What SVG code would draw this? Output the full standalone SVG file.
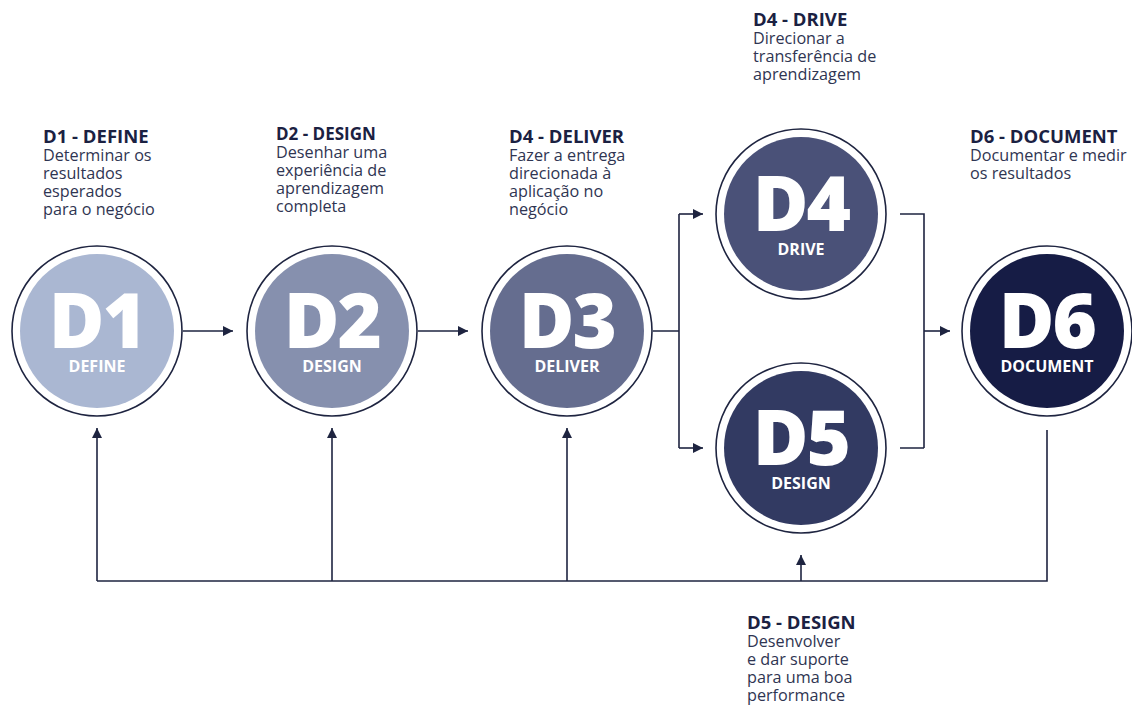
<svg xmlns="http://www.w3.org/2000/svg" width="1132" height="709" viewBox="0 0 1132 709">
  <style>
    .ring { fill: none; stroke: #1e2440; stroke-width: 1.6; }
    .mark { font-family: "Open Sans", "Liberation Sans", sans-serif; fill: #ffffff; text-anchor: middle; }
    .big { font-weight: 800; font-size: 76px; letter-spacing: -2px; }
    .lbl { font-weight: 700; font-size: 16px; letter-spacing: 0; }
    .cap { font-family: "Open Sans", "Liberation Sans", sans-serif; }
    .ttl { font-weight: 700; font-size: 18.5px; fill: #1b2142; }
    .ttl2 { font-weight: 700; font-size: 17px; fill: #1b2142; }
    .body { font-weight: 400; font-size: 16.2px; fill: #2f3552; }
    .conn { fill: none; stroke: #1e2440; stroke-width: 1.6; }
  </style>
  <defs>
    <marker id="arrow" viewBox="0 0 10 10" refX="10" refY="5" markerWidth="10" markerHeight="10" markerUnits="userSpaceOnUse" orient="auto">
      <path d="M0,0 L10,5 L0,10 Z" fill="#1e2440"/>
    </marker>
  </defs>
  <rect width="1132" height="709" fill="#ffffff"/>

  <!-- connectors: main flow, branch to D4/D5, merge to D6, feedback loop -->
  <g id="connectors">
    <path class="conn" d="M183,331 H233" marker-end="url(#arrow)"/>
    <path class="conn" d="M418,331 H468" marker-end="url(#arrow)"/>
    <path class="conn" d="M653,331 H679 M679,214 V448" />
    <path class="conn" d="M679,214 H703" marker-end="url(#arrow)"/>
    <path class="conn" d="M679,448 H703" marker-end="url(#arrow)"/>
    <path class="conn" d="M900,214 H924 V448 M900,448 H924"/>
    <path class="conn" d="M924,331 H950" marker-end="url(#arrow)"/>
    <path class="conn" d="M97,581 H1047 V430"/>
    <path class="conn" d="M97,581 V428" marker-end="url(#arrow)"/>
    <path class="conn" d="M332,581 V428" marker-end="url(#arrow)"/>
    <path class="conn" d="M567,581 V428" marker-end="url(#arrow)"/>
    <path class="conn" d="M801,581 V555" marker-end="url(#arrow)"/>
  </g>

  <g id="d1">
    <circle cx="97" cy="331" r="77" fill="#aab7d2"/>
    <circle class="ring" cx="97" cy="331" r="85"/>
    <text class="mark"><tspan class="big" x="97" y="348">D1</tspan><tspan class="lbl" x="97" y="372">DEFINE</tspan></text>
    <text class="cap">
      <tspan class="ttl" x="43" y="143">D1 - DEFINE</tspan>
      <tspan class="body" x="43" y="161">Determinar os</tspan>
      <tspan class="body" x="43" y="179">resultados</tspan>
      <tspan class="body" x="43" y="197">esperados</tspan>
      <tspan class="body" x="43" y="215">para o negócio</tspan>
    </text>
  </g>

  <g id="d2">
    <circle cx="332" cy="331" r="77" fill="#8690ae"/>
    <circle class="ring" cx="332" cy="331" r="85"/>
    <text class="mark"><tspan class="big" x="332" y="348">D2</tspan><tspan class="lbl" x="332" y="372">DESIGN</tspan></text>
    <text class="cap">
      <tspan class="ttl2" x="276" y="140">D2 - DESIGN</tspan>
      <tspan class="body" x="276" y="158">Desenhar uma</tspan>
      <tspan class="body" x="276" y="176">experiência de</tspan>
      <tspan class="body" x="276" y="194">aprendizagem</tspan>
      <tspan class="body" x="276" y="212">completa</tspan>
    </text>
  </g>

  <g id="d3">
    <circle cx="567" cy="331" r="77" fill="#656d8f"/>
    <circle class="ring" cx="567" cy="331" r="85"/>
    <text class="mark"><tspan class="big" x="567" y="348">D3</tspan><tspan class="lbl" x="567" y="372">DELIVER</tspan></text>
    <text class="cap">
      <tspan class="ttl" x="509" y="143">D4 - DELIVER</tspan>
      <tspan class="body" x="509" y="161">Fazer a entrega</tspan>
      <tspan class="body" x="509" y="179">direcionada à</tspan>
      <tspan class="body" x="509" y="197">aplicação no</tspan>
      <tspan class="body" x="509" y="215">negócio</tspan>
    </text>
  </g>

  <g id="d4">
    <circle cx="801" cy="214" r="77" fill="#4a5178"/>
    <circle class="ring" cx="801" cy="214" r="85"/>
    <text class="mark"><tspan class="big" x="801" y="231">D4</tspan><tspan class="lbl" x="801" y="255">DRIVE</tspan></text>
    <text class="cap">
      <tspan class="ttl" x="753" y="26">D4 - DRIVE</tspan>
      <tspan class="body" x="753" y="44">Direcionar a</tspan>
      <tspan class="body" x="753" y="62">transferência de</tspan>
      <tspan class="body" x="753" y="80">aprendizagem</tspan>
    </text>
  </g>

  <g id="d5">
    <circle cx="801" cy="448" r="77" fill="#323a62"/>
    <circle class="ring" cx="801" cy="448" r="85"/>
    <text class="mark"><tspan class="big" x="801" y="465">D5</tspan><tspan class="lbl" x="801" y="489">DESIGN</tspan></text>
    <text class="cap">
      <tspan class="ttl" x="747" y="629">D5 - DESIGN</tspan>
      <tspan class="body" x="747" y="647">Desenvolver</tspan>
      <tspan class="body" x="747" y="665">e dar suporte</tspan>
      <tspan class="body" x="747" y="683">para uma boa</tspan>
      <tspan class="body" x="747" y="701">performance</tspan>
    </text>
  </g>

  <g id="d6">
    <circle cx="1047" cy="331" r="77" fill="#161c45"/>
    <circle class="ring" cx="1047" cy="331" r="85"/>
    <text class="mark"><tspan class="big" x="1047" y="348">D6</tspan><tspan class="lbl" x="1047" y="372">DOCUMENT</tspan></text>
    <text class="cap">
      <tspan class="ttl" x="970" y="143">D6 - DOCUMENT</tspan>
      <tspan class="body" x="970" y="161">Documentar e medir</tspan>
      <tspan class="body" x="970" y="179">os resultados</tspan>
    </text>
  </g>
</svg>
